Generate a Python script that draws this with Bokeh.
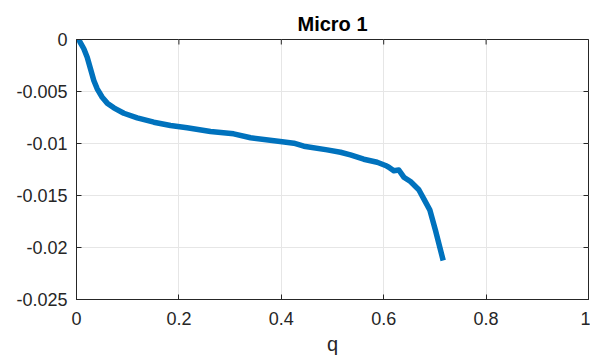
import math
from bokeh.plotting import figure
from bokeh.models import FixedTicker, Range1d, Title
from bokeh.embed import file_html
from bokeh.resources import INLINE

# curve samples (q, value)
q = [0.0, 0.0045, 0.0143, 0.0209, 0.0273, 0.0338, 0.0404, 0.0502, 0.060, 0.0729,
     0.0924, 0.1186, 0.151, 0.1836, 0.216, 0.2617, 0.307, 0.340, 0.4018, 0.4244,
     0.444, 0.4896, 0.5156, 0.535, 0.561, 0.5873, 0.6035, 0.61, 0.6197, 0.6295,
     0.6393, 0.6523, 0.6686, 0.6783, 0.690, 0.7012, 0.7162]
val = [0.0, -0.00003, -0.00089, -0.00170, -0.00282, -0.00394, -0.00474, -0.00555,
       -0.00612, -0.00657, -0.00709, -0.00753, -0.00795, -0.00827, -0.00849, -0.00885,
       -0.00907, -0.00945, -0.00984, -0.00997, -0.01026, -0.01061, -0.01084, -0.01109,
       -0.01151, -0.0118, -0.01211, -0.01228, -0.01262, -0.01255, -0.01324, -0.01365,
       -0.01445, -0.01532, -0.01638, -0.01837, -0.02125]

x_ticks = [0, 0.2, 0.4, 0.6, 0.8, 1]
x_labels = ["0", "0.2", "0.4", "0.6", "0.8", "1"]
y_ticks = [0, -0.005, -0.01, -0.015, -0.02, -0.025]
y_labels = ["0", "-0.005", "-0.01", "-0.015", "-0.02", "-0.025"]

FONT = "Liberation Sans"
AX = "#262626"

p = figure(width=590, height=357, output_backend="svg", toolbar_location=None,
           x_range=Range1d(0, 1), y_range=Range1d(-0.025, 0),
           min_border_left=76, min_border_right=2, min_border_top=39, min_border_bottom=58)
p.title = Title(text="Micro 1", align="center", text_font=FONT, text_font_size="20px",
                text_font_style="bold", text_color="#000000", standoff=9)
p.outline_line_color = AX
p.outline_line_width = 1
p.background_fill_color = "white"
p.border_fill_color = "white"

p.line(q, val, line_color="#0072BD", line_width=5.5, line_join="round")

for ax in (p.xaxis[0], p.yaxis[0]):
    ax.axis_line_color = AX
    ax.major_tick_line_color = AX
    ax.major_tick_in = 5
    ax.major_tick_out = 0
    ax.minor_tick_line_color = None
    ax.major_label_text_font = FONT
    ax.major_label_text_font_size = "18px"
    ax.major_label_text_color = AX

p.xaxis[0].ticker = FixedTicker(ticks=x_ticks)
p.xaxis[0].major_label_overrides = dict(zip(x_ticks, x_labels))
p.xaxis[0].major_label_standoff = 12
p.xaxis[0].axis_label = "q"
p.xaxis[0].axis_label_text_font = FONT
p.xaxis[0].axis_label_text_font_size = "20px"
p.xaxis[0].axis_label_text_font_style = "normal"
p.xaxis[0].axis_label_text_color = AX
p.xaxis[0].axis_label_standoff = 5

p.yaxis[0].ticker = FixedTicker(ticks=y_ticks)
p.yaxis[0].major_label_overrides = dict(zip(y_ticks, y_labels))
p.yaxis[0].major_label_standoff = 9

# inward tick marks mirrored on the top and right edges of the box
p.scatter(x_ticks, [y_ticks[0]] * len(x_ticks), marker="dash", size=10, angle=math.pi / 2,
          line_color=AX, line_width=1)
p.scatter([x_ticks[-1]] * len(y_ticks), y_ticks, marker="dash", size=10,
          line_color=AX, line_width=1)

p.xgrid.ticker = FixedTicker(ticks=x_ticks)
p.ygrid.ticker = FixedTicker(ticks=y_ticks)
for g in (p.xgrid[0], p.ygrid[0]):
    g.grid_line_color = "#e6e6e6"
    g.grid_line_width = 1

open("out.html", "w").write(file_html(p, INLINE))
